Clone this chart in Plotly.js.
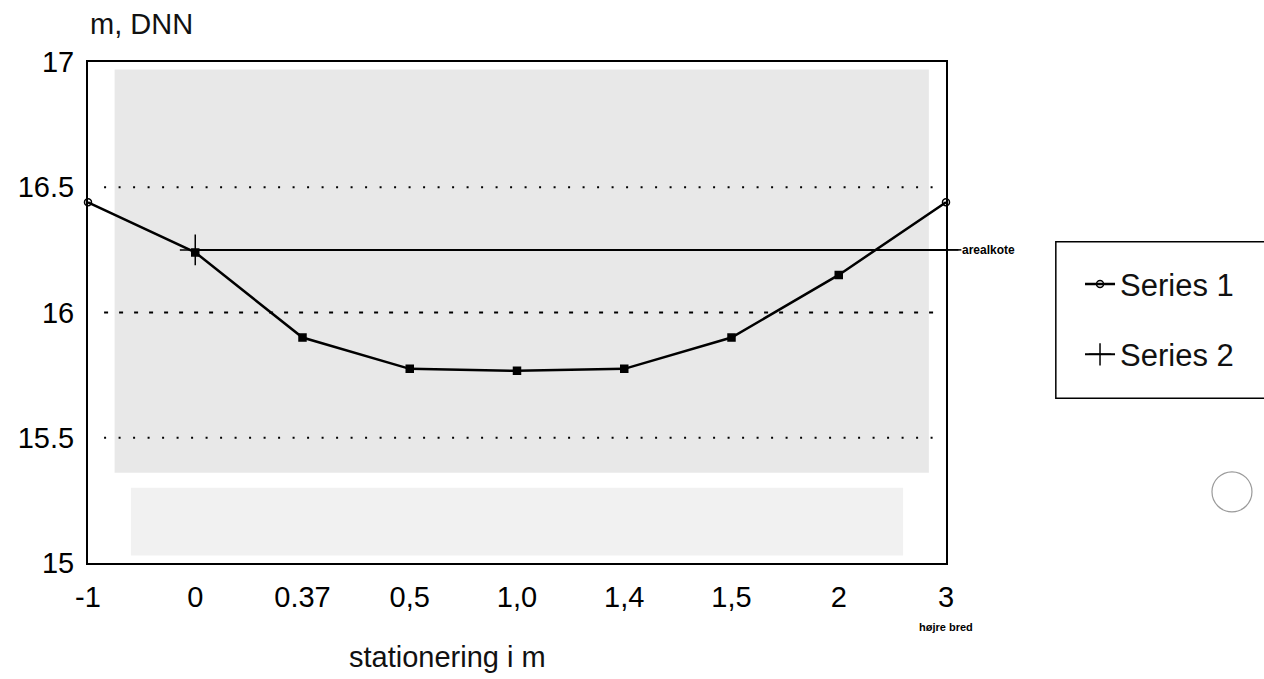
<!DOCTYPE html>
<html>
<head>
<meta charset="utf-8">
<script src="https://cdn.plot.ly/plotly-3.0.1.min.js"></script>
<style>html,body{margin:0;padding:0;background:#fff;}#chart{width:1264px;height:679px;}</style>
</head>
<body>
<div id="chart"></div>
<script>
// ---- data ----
var categories = ['-1', '0', '0.37', '0,5', '1,0', '1,4', '1,5', '2', '3'];
var series1 = [16.44, 16.24, 15.90, 15.775, 15.767, 15.775, 15.90, 16.15, 16.44];
var series2 = [null, 16.25, 16.25, 16.25, 16.25, 16.25, 16.25, 16.25, 16.25];
var yTicks = [15, 15.5, 16, 16.5, 17];
var yTickLabels = ['15', '15.5', '16', '16.5', '17'];
var gridDotted = [15.5, 16.5];
var gridDashed = [16];
var arealkote = 16.25;

var FONT = 'Liberation Sans, Arial, Helvetica, sans-serif';
var idx = categories.map(function (_, i) { return i; });
var last = categories.length - 1;

var s1Symbols = idx.map(function (i) { return (i === 0 || i === last) ? 'circle-open' : 'square'; });
var firstS2 = series2.findIndex(function (v) { return v !== null; });
var s2Symbols = idx.map(function (i) { return i <= firstS2 ? 'cross-thin-open' : 'line-ew-open'; });

var traces = [
  {
    x: idx, y: series1, name: 'Series 1', type: 'scatter', mode: 'lines+markers',
    line: {color: '#000', width: 2.5},
    marker: {symbol: s1Symbols, size: 7, color: '#000', line: {color: '#000', width: 1.5}},
    legendgroup: 'a', cliponaxis: false
  },
  {
    x: idx, y: series2, name: 'Series 2', type: 'scatter', mode: 'lines+markers',
    line: {color: '#000', width: 2},
    marker: {symbol: s2Symbols, size: 22, color: '#000', line: {color: '#000', width: 1.5}},
    legendgroup: 'b', cliponaxis: false
  }
];

var shapes = [
  // stippled background approximation (paper-referenced -> lowest layer)
  {type: 'rect', xref: 'paper', yref: 'paper', x0: 0.031, x1: 0.98, y0: 0.18, y1: 0.985,
   fillcolor: '#e8e8e8', line: {width: 0}, layer: 'below'},
  {type: 'rect', xref: 'paper', yref: 'paper', x0: 0.05, x1: 0.95, y0: 0.015, y1: 0.15,
   fillcolor: '#f1f1f1', line: {width: 0}, layer: 'below'},
  // arealkote extension
  {type: 'line', xref: 'paper', yref: 'y', x0: 1, x1: 1.0145, y0: arealkote, y1: arealkote,
   line: {color: '#000', width: 1.5}},
  // legend frame (open on the right)
  {type: 'rect', xref: 'paper', yref: 'paper', x0: 1.128, x1: 1.6, y0: 0.329, y1: 0.641,
   fillcolor: 'rgba(0,0,0,0)', line: {color: '#000', width: 1.5}},
  // hole punch mark
  {type: 'circle', xref: 'paper', yref: 'paper', x0: 1.310, x1: 1.3566, y0: 0.102, y1: 0.182,
   line: {color: '#9a9a9a', width: 1.2}}
];
gridDotted.forEach(function (v) {
  shapes.push({type: 'line', xref: 'x', yref: 'y', x0: 0.15, x1: 7.9, y0: v, y1: v,
    line: {color: '#000', width: 2, dash: '2px,12.5px'}, layer: 'below'});
});
gridDashed.forEach(function (v) {
  shapes.push({type: 'line', xref: 'x', yref: 'y', x0: 0.15, x1: 7.9, y0: v, y1: v,
    line: {color: '#000', width: 1.8, dash: '4px,11px'}, layer: 'below'});
});

var layout = {
  width: 1264, height: 679,
  margin: {l: 88, r: 318, t: 62, b: 116, pad: 0},
  paper_bgcolor: '#fff', plot_bgcolor: 'rgba(0,0,0,0)',
  font: {family: FONT, color: '#000'},
  showlegend: true,
  legend: {x: 1.1562, xanchor: 'left', y: 0.61, yanchor: 'top',
    font: {family: FONT, size: 31, color: '#111'}, bgcolor: 'rgba(0,0,0,0)', borderwidth: 0,
    traceorder: 'grouped', tracegroupgap: 27, itemwidth: 30},
  xaxis: {
    range: [0, last], tickvals: idx, ticktext: categories,
    showline: true, mirror: true, linecolor: '#000', linewidth: 2,
    ticks: '', showgrid: false, zeroline: false,
    tickfont: {family: FONT, size: 29, color: '#000'},
    ticklabelstandoff: 7
  },
  yaxis: {
    range: [15, 17], tickvals: yTicks, ticktext: yTickLabels,
    showline: true, mirror: true, linecolor: '#000', linewidth: 2,
    ticks: '', showgrid: false, zeroline: false,
    tickfont: {family: FONT, size: 29, color: '#000'},
    ticklabelstandoff: 6
  },
  shapes: shapes,
  annotations: [
    {text: 'm, DNN', xref: 'paper', yref: 'paper', x: (88 - 88) / 858, y: (563 - 24) / 501,
     xanchor: 'left', yanchor: 'middle', showarrow: false, font: {family: FONT, size: 29, color: '#111'}},
    {text: 'stationering i m', xref: 'paper', yref: 'paper', x: (447 - 88) / 858, y: -(657 - 563) / 501,
     xanchor: 'center', yanchor: 'middle', showarrow: false, font: {family: FONT, size: 29, color: '#111'}},
    {text: '<b>højre bred</b>', xref: 'paper', yref: 'paper', x: 1, y: -(627 - 563) / 501,
     xanchor: 'center', yanchor: 'middle', showarrow: false, font: {family: FONT, size: 11, color: '#000'}},
    {text: '<b>arealkote</b>', xref: 'paper', yref: 'y', x: 1.016, y: arealkote,
     xanchor: 'left', yanchor: 'middle', showarrow: false, font: {family: FONT, size: 12, color: '#000'}}
  ]
};

Plotly.newPlot('chart', traces, layout, {displayModeBar: false, staticPlot: true});
</script>
</body>
</html>
